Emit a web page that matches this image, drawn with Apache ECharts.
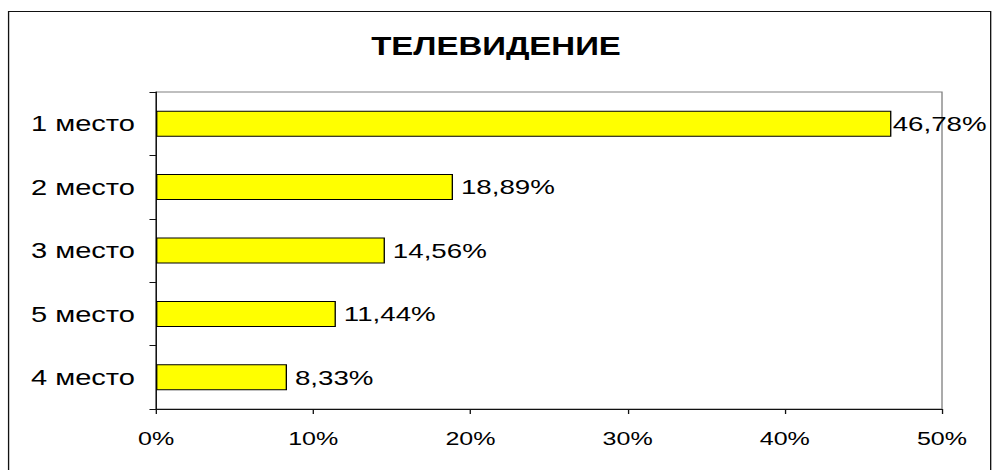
<!DOCTYPE html>
<html>
<head>
<meta charset="utf-8">
<script src="https://cdn.jsdelivr.net/npm/echarts@6/dist/echarts.min.js"></script>
<style>
html,body{margin:0;padding:0;background:#fff;overflow:hidden;width:992px;height:470px;}
#c{width:752px;height:470px;transform:scaleX(1.31915);transform-origin:0 0;}
</style>
</head>
<body>
<div id="c"></div>
<script>
var titleText = 'ТЕЛЕВИДЕНИЕ';
var categories = ['1 место', '2 место', '3 место', '5 место', '4 место'];
var values = [46.78, 18.89, 14.56, 11.44, 8.33];
var axisMin = 0, axisMax = 50, axisStep = 10;

var FONT = '"Liberation Sans", Arial, sans-serif';
var chart = echarts.init(document.getElementById('c'), null, {renderer: 'svg'});

var maxVal = Math.max.apply(null, values);
var barData = values.map(function (v) {
  return {
    value: v,
    label: {distance: v === maxVal ? 1 : 6}
  };
});

chart.setOption({
  animation: false,
  backgroundColor: '#ffffff',
  title: {
    text: titleText,
    left: 'center',
    top: 29,
    textStyle: {fontFamily: FONT, fontSize: 25, fontWeight: 'bold', color: '#000'}
  },
  graphic: [{
    type: 'rect',
    shape: {x: 6.5, y: 11.5, width: 744.5, height: 470},
    style: {fill: 'none', stroke: '#111', lineWidth: 1},
    silent: true
  }],
  grid: {
    left: 118.3, right: 37.9, top: 92, bottom: 61,
    show: true, borderColor: '#808080', borderWidth: 1, backgroundColor: '#fff'
  },
  xAxis: {
    type: 'value',
    min: axisMin, max: axisMax, interval: axisStep,
    axisLine: {show: true, lineStyle: {color: '#111', width: 1}},
    axisTick: {show: true, length: 5, lineStyle: {color: '#111'}},
    splitLine: {show: false},
    axisLabel: {
      margin: 20, fontFamily: FONT, fontSize: 19, color: '#000',
      formatter: function (v) { return v + '%'; }
    }
  },
  yAxis: {
    type: 'category',
    data: categories,
    inverse: true,
    axisLine: {show: true, lineStyle: {color: '#111', width: 1}},
    axisTick: {show: true, length: 5, lineStyle: {color: '#111'}},
    splitLine: {show: false},
    axisLabel: {margin: 16, fontFamily: FONT, fontSize: 22, color: '#000'}
  },
  series: [{
    type: 'bar',
    data: barData,
    barWidth: 26,
    itemStyle: {color: '#FFFF00', borderColor: '#000', borderWidth: 1},
    label: {
      show: true,
      position: 'right',
      fontFamily: FONT, fontSize: 21, color: '#000',
      formatter: function (p) { return p.value.toFixed(2).replace('.', ',') + '%'; }
    }
  }]
});
</script>
</body>
</html>
